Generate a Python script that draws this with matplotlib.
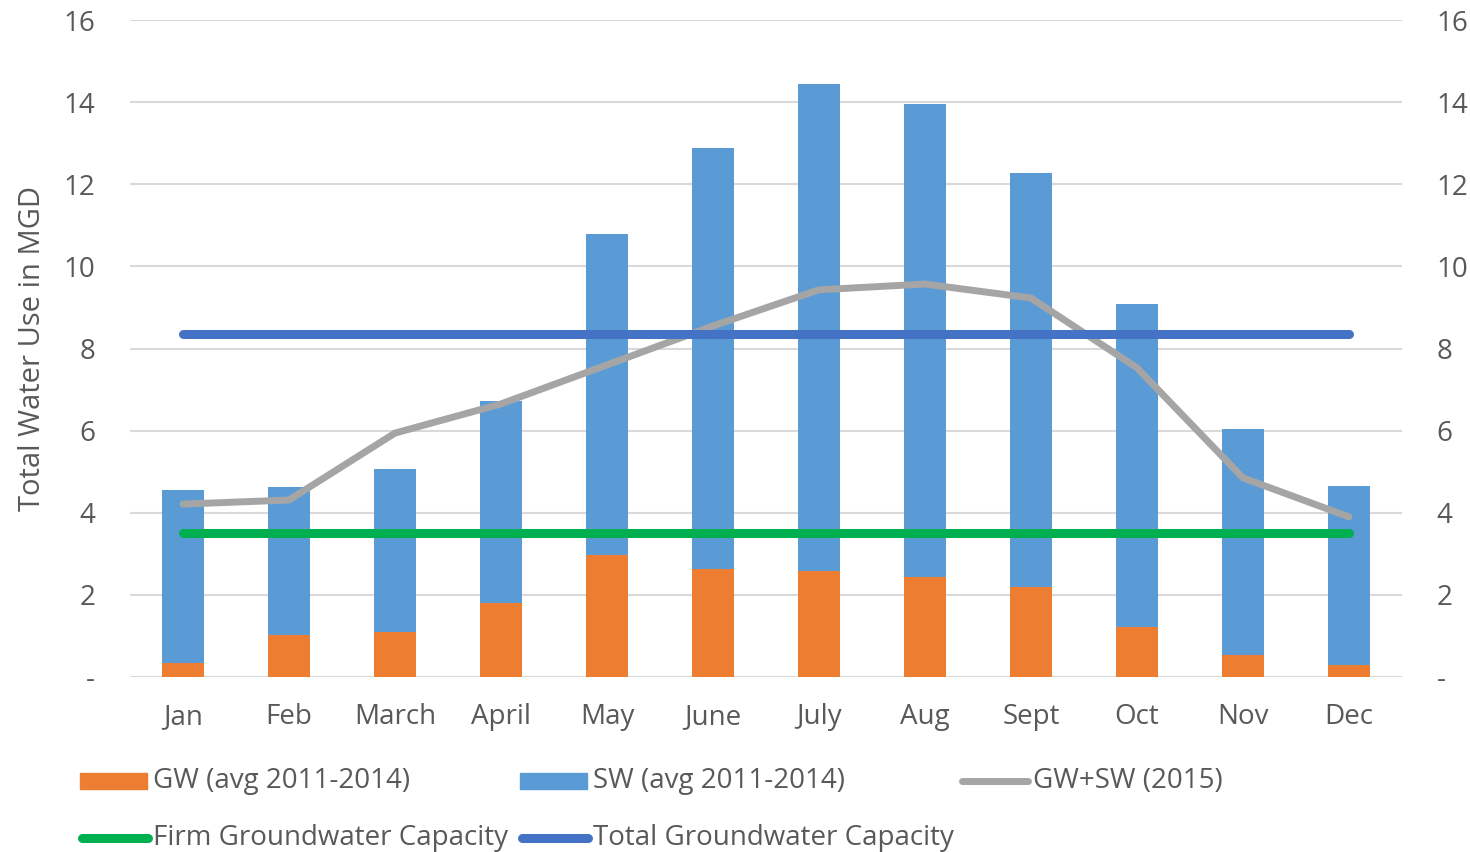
import matplotlib.pyplot as plt
from matplotlib.patches import Rectangle
from matplotlib.lines import Line2D
import numpy as np

months = ['Jan', 'Feb', 'March', 'April', 'May', 'June', 'July', 'Aug', 'Sept', 'Oct', 'Nov', 'Dec']
gw = [0.34, 1.02, 1.10, 1.80, 2.97, 2.63, 2.58, 2.44, 2.19, 1.22, 0.54, 0.29]
total = [4.55, 4.63, 5.07, 6.72, 10.79, 12.88, 14.44, 13.96, 12.27, 9.08, 6.04, 4.65]
sw = [t - g for t, g in zip(total, gw)]
gw_sw_2015 = [4.21, 4.31, 5.94, 6.65, 7.60, 8.55, 9.43, 9.57, 9.23, 7.53, 4.85, 3.90]
firm_cap = 3.5
total_cap = 8.35

yticks = [0, 2, 4, 6, 8, 10, 12, 14, 16]
ylabels = ['-'] + [str(v) for v in yticks[1:]]

c_gw = '#ed7d31'
c_sw = '#5b9bd5'
c_line = '#a5a5a5'
c_firm = '#00b050'
c_tot = '#4472c4'
c_txt = '#595959'

plt.rcParams['font.family'] = ['Open Sans', 'DejaVu Sans']

fig = plt.figure(figsize=(14.7, 8.52), dpi=100)
ax = fig.add_axes([0.0884, 0.2054, 0.8653, 0.7711])

x = np.arange(len(months))
ax.bar(x, gw, 0.4, color=c_gw, zorder=2)
ax.bar(x, sw, 0.4, bottom=gw, color=c_sw, zorder=2)
ax.plot(x, gw_sw_2015, color=c_line, lw=5, solid_capstyle='round', solid_joinstyle='round', zorder=3)
ax.plot(x, [firm_cap] * len(x), color=c_firm, lw=6.5, solid_capstyle='round', zorder=4)
ax.plot(x, [total_cap] * len(x), color=c_tot, lw=6.5, solid_capstyle='round', zorder=4)

ax.set_xlim(-0.5, len(months) - 0.5)
ax.set_ylim(0, 16)
ax.set_xticks(x)
ax.set_xticklabels(months, fontsize=20, color=c_txt)
ax.set_yticks(yticks)
ax.set_yticklabels(ylabels, fontsize=20, color=c_txt)
ax.tick_params(axis='x', length=0, pad=19)
ax.tick_params(axis='y', length=0, pad=25)
ax.yaxis.grid(True, color='#d9d9d9', lw=1.5, zorder=0)
for s in ax.spines.values():
    s.set_visible(False)
ax.set_ylabel('Total Water Use in MGD', fontsize=21, color=c_txt)
ax.yaxis.set_label_coords(-0.065, 0.5)

ax2 = ax.twinx()
ax2.set_ylim(0, 16)
ax2.set_yticks(yticks)
ax2.set_yticklabels(ylabels, fontsize=20, color=c_txt)
ax2.tick_params(length=0, pad=25)
for s in ax2.spines.values():
    s.set_visible(False)

# legend drawn by hand to keep fixed column spacing
W, H = 1470.0, 852.0
entries = [
    ('patch', c_gw, 'GW (avg 2011-2014)', 80, 781),
    ('patch', c_sw, 'SW (avg 2011-2014)', 520, 781),
    ('line', c_line, 'GW+SW (2015)', 960, 781),
    ('line', c_firm, 'Firm Groundwater Capacity', 80, 838),
    ('line', c_tot, 'Total Groundwater Capacity', 520, 838),
]
for kind, col, txt, px, py in entries:
    if kind == 'patch':
        fig.add_artist(Rectangle((px / W, 1 - (py + 8) / H), 67 / W, 16 / H,
                                 transform=fig.transFigure, color=col))
    else:
        lw = 5 if col == c_line else 6.5
        fig.add_artist(Line2D([(px + 2) / W, (px + 68) / W], [1 - py / H, 1 - py / H],
                              transform=fig.transFigure, color=col, lw=lw,
                              solid_capstyle='round'))
    fig.text((px + 73) / W, 1 - py / H, txt, fontsize=20, color=c_txt,
             va='center', ha='left')

plt.savefig('out.png', dpi=100)
